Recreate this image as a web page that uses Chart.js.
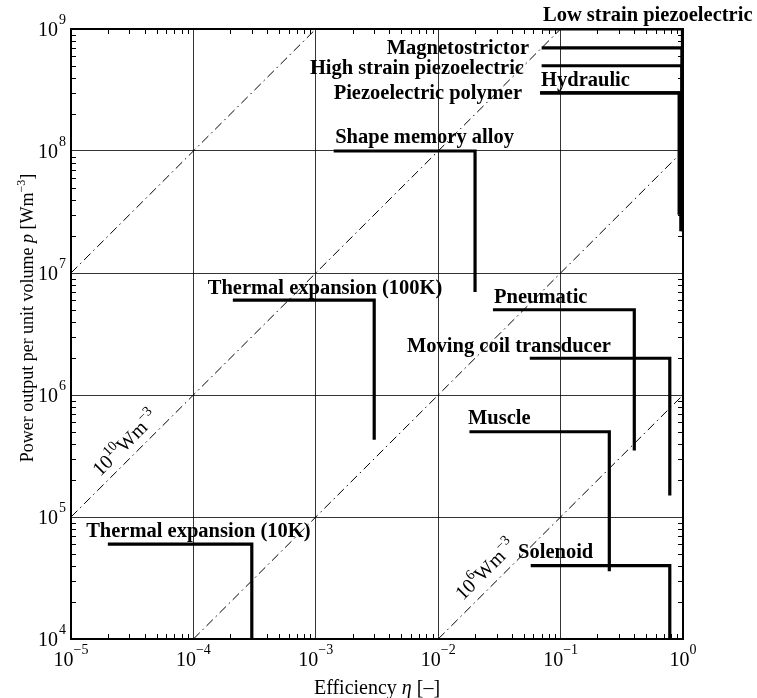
<!DOCTYPE html>
<html>
<head>
<meta charset="utf-8">
<script src="https://cdn.jsdelivr.net/npm/chart.js@4.4.1/dist/chart.umd.min.js"></script>
<style>
  body { margin: 0; background: #fff; }
</style>
</head>
<body>
<canvas id="chart" width="757" height="698"></canvas>
<script>
// actuator envelopes: horizontal at pMax from etaMin to etaMax, then down to pMin
const actuators = [
  "Low strain piezoelectric",
  "Magnetostrictor",
  "High strain piezoelectric",
  "Hydraulic",
  "Piezoelectric polymer",
  "Shape memory alloy",
  "Thermal expansion (100K)",
  "Thermal expansion (10K)",
  "Pneumatic",
  "Moving coil transducer",
  "Muscle",
  "Solenoid",
];
const etaMin = [0.072, 0.07, 0.07, 0.068, 0.068, 0.0014, 2.1e-4, 2e-5, 0.028, 0.056, 0.018, 0.057];
const etaMax = [0.99, 0.98, 0.98, 0.96, 0.93, 0.02, 3e-3, 3e-4, 0.4, 0.78, 0.25, 0.78];
const pMax = [1e9, 7e8, 5e8, 3e8, 3e8, 1e8, 6e6, 6e4, 5e6, 2e6, 5e5, 4e4];
const pMin = [2.2e7, 3e8, 3e8, 2.2e7, 3e7, 7e6, 4.3e5, 1e4, 3.5e5, 1.5e5, 3.6e4, 1e4];

// label anchors (data coords) for each actuator
const labelEta = [0.0718, 0.0552, 0.0502, 0.0692, 0.0484, 0.00144, 1.31e-4, 1.33e-5, 0.0286, 5.56e-3, 0.0175, 0.0449];
const labelP = [1.16e9, 6.24e8, 4.27e8, 3.41e8, 2.67e8, 1.16e8, 6.73e6, 6.86e4, 5.68e6, 2.25e6, 5.78e5, 4.61e4];
const labelAlign = ["left", "right", "right", "left", "right", "left", "left", "left", "left", "left", "left", "left"];

// lines of constant p / eta
const diagEta = [[1e-5, 1e-3], [1e-5, 1e-1], [1e-4, 1], [1e-2, 1]];
const diagP = [[1e7, 1e9], [1e5, 1e9], [1e4, 1e8], [1e4, 1e6]];
const diagLabelIdx = [1, 3];
const diagLabelBase = ["10", "10"];
const diagLabelExp = ["10", "6"];
const diagLabelEta = [1.73e-5, 0.01594];
const diagLabelP = [2.13e5, 2.05e4];

// axis ticks
const xTicks = [1e-5, 1e-4, 1e-3, 1e-2, 1e-1, 1];
const xTickExp = ["\u22125", "\u22124", "\u22123", "\u22122", "\u22121", "0"];
const yTicks = [1e4, 1e5, 1e6, 1e7, 1e8, 1e9];
const yTickExp = ["4", "5", "6", "7", "8", "9"];

const SERIF = '"Liberation Serif", "Times New Roman", serif';

function rich(ctx, parts, x, y, align) {
  let w = 0;
  parts.forEach((p) => {
    ctx.font = p[1];
    w += ctx.measureText(p[0]).width;
  });
  let cx = align === "center" ? x - w / 2 : align === "right" ? x - w : x;
  ctx.textAlign = "left";
  parts.forEach((p) => {
    ctx.font = p[1];
    ctx.fillText(p[0], cx, y + (p[2] || 0));
    cx += ctx.measureText(p[0]).width;
  });
}

const decor = {
  id: "decor",
  afterDraw(chart) {
    const { ctx, chartArea: a } = chart;
    const xs = chart.scales.x;
    const ys = chart.scales.y;
    ctx.save();
    ctx.fillStyle = "#000";
    ctx.strokeStyle = "#000";

    // frame
    ctx.lineWidth = 2;
    ctx.strokeRect(a.left, a.top, a.right - a.left, a.bottom - a.top);

    // minor ticks, pointing inwards on all sides
    ctx.lineWidth = 1;
    ctx.beginPath();
    for (let i = 0; i < xTicks.length - 1; i++) {
      for (let k = 2; k < 10; k++) {
        const px = Math.round(xs.getPixelForValue(xTicks[i] * k)) + 0.5;
        ctx.moveTo(px, a.bottom);
        ctx.lineTo(px, a.bottom - 5);
        ctx.moveTo(px, a.top);
        ctx.lineTo(px, a.top + 5);
      }
    }
    for (let i = 0; i < yTicks.length - 1; i++) {
      for (let k = 2; k < 10; k++) {
        const py = Math.round(ys.getPixelForValue(yTicks[i] * k)) + 0.5;
        ctx.moveTo(a.left, py);
        ctx.lineTo(a.left + 5, py);
        ctx.moveTo(a.right, py);
        ctx.lineTo(a.right - 5, py);
      }
    }
    ctx.stroke();

    // tick labels
    ctx.textBaseline = "alphabetic";
    xTicks.forEach((v, i) => {
      const px = xs.getPixelForValue(v);
      rich(ctx, [["10", "20px " + SERIF, 0], [xTickExp[i], "14px " + SERIF, -12]], px, a.bottom + 27, "center");
    });
    yTicks.forEach((v, i) => {
      const py = ys.getPixelForValue(v);
      ctx.font = "20px " + SERIF;
      ctx.textAlign = "right";
      ctx.fillText("10", 58, py + 7);
      ctx.font = "14px " + SERIF;
      ctx.textAlign = "left";
      ctx.fillText(yTickExp[i], 59, py - 5);
    });

    // axis titles
    rich(ctx, [["Efficiency ", "20px " + SERIF], ["\u03b7", "italic 20px " + SERIF], [" [\u2013]", "20px " + SERIF]],
      (a.left + a.right) / 2, 694, "center");
    ctx.save();
    ctx.translate(33, 318);
    ctx.rotate(-Math.PI / 2);
    rich(ctx, [["Power output per unit volume ", "18px " + SERIF], ["p", "italic 18px " + SERIF],
      [" [Wm", "18px " + SERIF], ["\u22123", "12px " + SERIF, -8], ["]", "18px " + SERIF]], 0, 0, "center");
    ctx.restore();

    // actuator names
    ctx.font = "bold 20.5px " + SERIF;
    actuators.forEach((name, i) => {
      ctx.textAlign = labelAlign[i];
      ctx.fillText(name, xs.getPixelForValue(labelEta[i]), ys.getPixelForValue(labelP[i]));
    });

    // diagonal labels
    diagLabelIdx.forEach((d, i) => {
      const ang = Math.atan2(
        ys.getPixelForValue(diagP[d][1]) - ys.getPixelForValue(diagP[d][0]),
        xs.getPixelForValue(diagEta[d][1]) - xs.getPixelForValue(diagEta[d][0])
      );
      ctx.save();
      ctx.translate(xs.getPixelForValue(diagLabelEta[i]), ys.getPixelForValue(diagLabelP[i]));
      ctx.rotate(ang);
      rich(ctx, [[diagLabelBase[i], "20px " + SERIF], [diagLabelExp[i], "14px " + SERIF, -9],
        ["Wm", "20px " + SERIF], ["\u22123", "14px " + SERIF, -9]], 0, 0, "left");
      ctx.restore();
    });
    ctx.restore();
  },
};

const datasets = [];
diagEta.forEach((e, i) => {
  datasets.push({
    data: [{ x: e[0], y: diagP[i][0] }, { x: e[1], y: diagP[i][1] }],
    borderColor: "#000",
    borderWidth: 1,
    borderDash: [9, 4, 1.5, 4],
    showLine: true,
    pointRadius: 0,
  });
});
actuators.forEach((name, i) => {
  datasets.push({
    label: name,
    data: [
      { x: etaMin[i], y: pMax[i] },
      { x: etaMax[i], y: pMax[i] },
      { x: etaMax[i], y: pMin[i] },
    ],
    borderColor: "#000",
    borderWidth: 3.2,
    borderJoinStyle: "miter",
    borderCapStyle: "butt",
    showLine: true,
    pointRadius: 0,
  });
});

new Chart(document.getElementById("chart").getContext("2d"), {
  type: "scatter",
  data: { datasets },
  options: {
    responsive: false,
    animation: false,
    layout: { padding: { left: 71, right: 74, top: 29, bottom: 59 } },
    plugins: { legend: { display: false }, tooltip: { enabled: false } },
    scales: {
      x: {
        type: "logarithmic",
        min: 1e-5,
        max: 1,
        afterBuildTicks: (s) => { s.ticks = xTicks.map((v) => ({ value: v })); },
        ticks: { display: false },
        grid: { color: "#000", lineWidth: 0.8, drawTicks: false },
        border: { display: false },
      },
      y: {
        type: "logarithmic",
        min: 1e4,
        max: 1e9,
        afterBuildTicks: (s) => { s.ticks = yTicks.map((v) => ({ value: v })); },
        ticks: { display: false },
        grid: { color: "#000", lineWidth: 0.8, drawTicks: false },
        border: { display: false },
      },
    },
  },
  plugins: [decor],
});
</script>
</body>
</html>
